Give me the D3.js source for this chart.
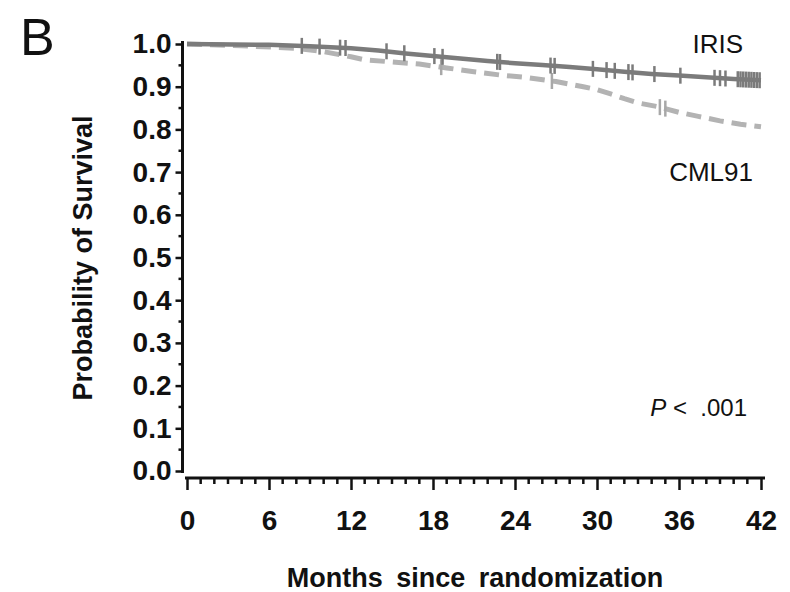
<!DOCTYPE html>
<html>
<head>
<meta charset="utf-8">
<script src="https://cdn.jsdelivr.net/npm/d3@7"></script>
<style>
  body { margin: 0; background: #fff; }
  svg { display: block; font-family: "Liberation Sans", Arial, sans-serif; }
</style>
</head>
<body>
<svg id="km" width="790" height="592"></svg>
<script>
// Kaplan-Meier estimates (months, probability)
const irisMonths = [0, 6, 9, 12, 14, 16, 18, 20, 22, 24, 26, 28, 30, 32, 34, 36, 38, 40, 42];
const irisSurv   = [1.0, 0.998, 0.995, 0.99, 0.985, 0.978, 0.972, 0.966, 0.96, 0.955, 0.951, 0.946, 0.941, 0.935, 0.93, 0.926, 0.922, 0.918, 0.915];
const irisCensor = [8.4, 9.7, 11.2, 11.6, 14.6, 15.9, 18.1, 18.7, 22.7, 22.9, 26.6, 26.9, 29.7, 30.7, 31.3, 32.3, 32.6, 34.2, 36.1, 38.6, 39.0, 39.4, 40.3, 40.5, 40.7, 40.9, 41.1, 41.3, 41.5, 41.7, 41.9];

const cmlMonths = [0, 4, 8, 10, 12, 13, 15, 17, 19, 21, 23, 25, 27, 29, 30, 31, 32, 33, 34.5, 36, 37.5, 39, 40.5, 42];
const cmlSurv   = [1.0, 0.996, 0.99, 0.982, 0.97, 0.963, 0.958, 0.953, 0.944, 0.935, 0.927, 0.921, 0.912, 0.9, 0.893, 0.883, 0.872, 0.862, 0.853, 0.84, 0.83, 0.82, 0.812, 0.806];
const cmlCensor = [18.6, 26.7, 34.6, 35.0];

const xTicks = [0, 6, 12, 18, 24, 30, 36, 42];
const yTicks = [0, 0.1, 0.2, 0.3, 0.4, 0.5, 0.6, 0.7, 0.8, 0.9, 1.0];

const svg = d3.select('#km');
const ink = '#111';

const x = d3.scaleLinear().domain([0, 42]).range([187, 761]);
const y = d3.scaleLinear().domain([0, 1]).range([471, 44]);

// panel letter
svg.append('text').attr('x', 20).attr('y', 55)
  .attr('font-size', 52).attr('fill', ink).text('B');

// y axis
const yAxis = svg.append('g').attr('transform', 'translate(182.5,0)')
  .call(d3.axisLeft(y).tickValues(yTicks).tickSize(7).tickPadding(4).tickFormat(d3.format('.1f')));
yAxis.select('.domain').attr('d', `M0,${y(0) + 2}V${y(1) - 3}`);
const yMinor = d3.range(0.05, 1, 0.1);
yAxis.selectAll('.minor').data(yMinor).enter().append('line')
  .attr('class', 'minor').attr('x1', -4).attr('x2', 0)
  .attr('y1', d => y(d)).attr('y2', d => y(d));

// x axis, offset below the plot
const xAxis = svg.append('g').attr('transform', 'translate(0,478)')
  .call(d3.axisBottom(x).tickValues(xTicks).tickSize(12).tickPadding(20));
xAxis.select('.domain').attr('d', `M${x(0) - 2},0H${x(42) + 4}`);
xAxis.selectAll('.minor').data(d3.range(1, 42).filter(m => m % 6 !== 0)).enter().append('line')
  .attr('class', 'minor').attr('x1', d => x(d)).attr('x2', d => x(d))
  .attr('y1', 0).attr('y2', 6);

svg.selectAll('.domain, .tick line, .minor')
  .attr('stroke', ink).attr('stroke-width', 2.5);
svg.selectAll('.domain').attr('stroke-width', 3);
svg.selectAll('.tick text')
  .attr('font-size', 28).attr('font-weight', 'bold').attr('fill', ink)
  .attr('font-family', '"Liberation Sans", Arial, sans-serif');

// axis titles
svg.append('text')
  .attr('transform', 'translate(92,258) rotate(-90)')
  .attr('text-anchor', 'middle').attr('font-size', 27).attr('font-weight', 'bold')
  .attr('fill', ink).text('Probability of Survival');

svg.append('text').attr('x', 475).attr('y', 587)
  .attr('text-anchor', 'middle').attr('font-size', 27).attr('font-weight', 'bold')
  .attr('fill', ink).attr('word-spacing', 6).text('Months since randomization');

// curves
const line = d3.line().x(d => x(d[0])).y(d => y(d[1]));
const cmlData = cmlMonths.map((m, i) => [m, cmlSurv[i]]);
const irisData = irisMonths.map((m, i) => [m, irisSurv[i]]);

svg.append('path').datum(cmlData).attr('d', line)
  .attr('fill', 'none').attr('stroke', '#b3b3b3').attr('stroke-width', 5)
  .attr('stroke-dasharray', '15,8');

svg.append('path').datum(irisData).attr('d', line)
  .attr('fill', 'none').attr('stroke', '#7b7b7b').attr('stroke-width', 4.5);

// survival at time t, linear between read points
function survAt(months, surv, t) {
  return d3.scaleLinear().domain(months).range(surv)(t);
}

svg.selectAll('.cml-censor').data(cmlCensor).enter().append('line')
  .attr('x1', d => x(d)).attr('x2', d => x(d))
  .attr('y1', d => y(survAt(cmlMonths, cmlSurv, d)) - 8)
  .attr('y2', d => y(survAt(cmlMonths, cmlSurv, d)) + 8)
  .attr('stroke', '#a8a8a8').attr('stroke-width', 2.5);

svg.selectAll('.iris-censor').data(irisCensor).enter().append('line')
  .attr('x1', d => x(d)).attr('x2', d => x(d))
  .attr('y1', d => y(survAt(irisMonths, irisSurv, d)) - 8)
  .attr('y2', d => y(survAt(irisMonths, irisSurv, d)) + 8)
  .attr('stroke', '#7b7b7b').attr('stroke-width', 2.5);

// group labels
svg.append('text').attr('x', 743).attr('y', 53).attr('text-anchor', 'end')
  .attr('font-size', 26).attr('fill', ink).text('IRIS');
svg.append('text').attr('x', 753).attr('y', 181).attr('text-anchor', 'end')
  .attr('font-size', 26).attr('fill', ink).text('CML91');

const p = svg.append('text').attr('x', 747).attr('y', 416).attr('text-anchor', 'end')
  .attr('font-size', 24).attr('fill', ink);
p.append('tspan').attr('font-style', 'italic').text('P');
p.append('tspan').text(' <  .001').attr('xml:space', 'preserve');
</script>
</body>
</html>
